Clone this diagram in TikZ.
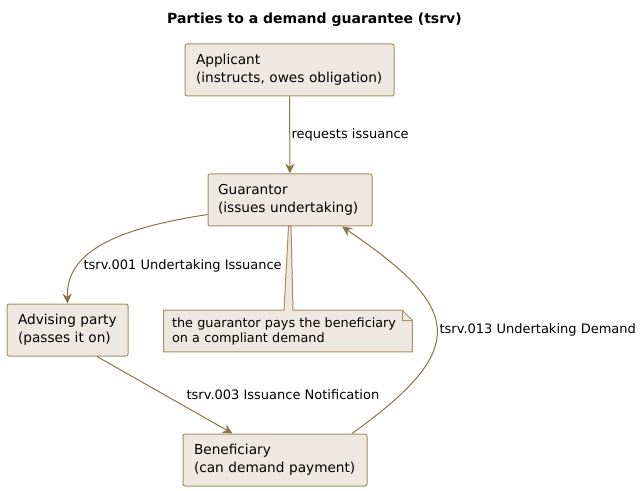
\documentclass[tikz,border=0pt]{standalone}
\usepackage{fontspec}
\setmainfont{DejaVu Sans}
\usetikzlibrary{arrows.meta,calc,backgrounds}
\definecolor{partyfill}{HTML}{EFE8E0}
\definecolor{partyline}{HTML}{A68D62}
\definecolor{flowline}{HTML}{8B7348}
\newcommand{\partyfont}{\fontsize{10.25}{13.5}\selectfont\hyphenpenalty=10000\relax}
\begin{document}
\begin{tikzpicture}[x=0.75pt,y=-0.75pt,
  party/.style={draw=partyline,fill=partyfill,line width=0.75pt,rounded corners=1.5pt,align=left,inner xsep=8.25pt,minimum height=39pt,font=\partyfont},
  notebox/.style={align=left,inner xsep=6pt,minimum height=30.75pt,text width=174pt,font=\fontsize{9.6}{11.25}\selectfont},
  flow/.style={draw=flowline,line width=0.75pt,-{Stealth[length=7.5pt,width=7pt,inset=2.5pt]}},
  lbl/.style={font=\fontsize{9.75}{12}\selectfont,inner sep=1pt}]
  \useasboundingbox (0,0) rectangle (641,491);
  \node[font=\bfseries\fontsize{10.5}{12}\selectfont] (title) at (314.5,20) {Parties to a demand guarantee (tsrv)};
  \node[party,text width=140.25pt] (applicant) at (289.5,70) {Applicant\\(instructs, owes obligation)};
  \node[party,text width=108pt,inner xsep=7.5pt] (guarantor) at (290,200) {Guarantor\\(issues undertaking)};
  \node[party,text width=74.25pt] (advising) at (67.5,330) {Advising party\\(passes it on)};
  \node[party,text width=121.5pt] (beneficiary) at (275,460) {Beneficiary\\(can demand payment)};
  \node[notebox] (note) at (288,331) {the guarantor pays the beneficiary\\on a compliant demand};
  \begin{scope}[on background layer]
    \draw[draw=partyline,fill=partyfill,line width=0.75pt] (note.north west) -- ($(note.north east)+(-10,0)$) -- ($(note.north east)+(0,10)$) -- (note.south east) -- (note.south west) -- cycle;
    \draw[draw=partyline,line width=0.75pt] ($(note.north east)+(-10,0)$) -- ($(note.north east)+(-10,10)$) -- ($(note.north east)+(0,10)$);
  \end{scope}
  \fill[partyfill] ($(guarantor.south)+(-1.5,0.5)$) -- ($(note.north)+(-4,1)$) -- ($(note.north)+(5,1)$) -- ($(guarantor.south)+(1,0.5)$) -- cycle;
  \draw[partyline,line width=0.75pt] ($(note.north)+(-4,0)$) -- ($(guarantor.south)+(-1.5,0)$) -- ($(guarantor.south)+(1,0)$) -- ($(note.north)+(5,0)$);
  \draw[flow] (applicant) -- (guarantor) node[midway,right,lbl] {requests issuance};
  \draw[flow] (guarantor.190) .. controls (120,228) and (66,250) .. (advising.north);
  \node[lbl,anchor=west] (issuelbl) at (82,266) {tsrv.001 Undertaking Issuance};
  \draw[flow] (advising.-42) -- (beneficiary.148) node[midway,anchor=west,xshift=15pt,lbl] {tsrv.003 Issuance Notification};
  \draw[flow] (beneficiary.19) .. controls (473,347) and (460,307) .. (guarantor.-27);
  \node[lbl,anchor=west] (demandlbl) at (438,330) {tsrv.013 Undertaking Demand};
\end{tikzpicture}
\end{document}
